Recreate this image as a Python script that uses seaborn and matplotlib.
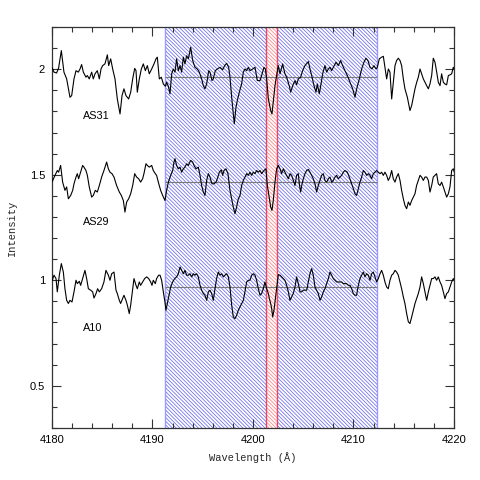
import numpy as np
import pandas as pd
import matplotlib
matplotlib.use("Agg")
import matplotlib.pyplot as plt
import seaborn as sns
from matplotlib.ticker import MultipleLocator, FuncFormatter

# ---------------- data ----------------
wl_as31 = [4180.03, 4180.20, 4180.46, 4180.66, 4180.93, 4181.19, 4181.46, 4181.79, 4181.96, 4182.19,
           4182.39, 4182.62, 4182.79, 4182.95, 4183.12, 4183.38, 4183.52, 4183.71, 4183.95, 4184.11,
           4184.28, 4184.51, 4184.71, 4184.88, 4185.04, 4185.27, 4185.51, 4185.64, 4185.84, 4186.04,
           4186.27, 4186.50, 4186.77, 4186.97, 4187.16, 4187.36, 4187.63, 4187.83, 4188.03, 4188.23,
           4188.36, 4188.49, 4188.69, 4188.89, 4189.09, 4189.29, 4189.49, 4189.68, 4189.92, 4190.15,
           4190.35, 4190.48, 4190.68, 4190.88, 4191.08, 4191.28, 4191.41, 4191.58, 4191.74, 4191.91,
           4192.07, 4192.24, 4192.40, 4192.57, 4192.74, 4192.90, 4193.07, 4193.23, 4193.40, 4193.57,
           4193.80, 4194.00, 4194.23, 4194.46, 4194.66, 4194.89, 4195.06, 4195.22, 4195.39, 4195.59,
           4195.72, 4195.92, 4196.05, 4196.25, 4196.45, 4196.72, 4196.98, 4197.18, 4197.38, 4197.58,
           4197.71, 4197.88, 4198.04, 4198.14, 4198.31, 4198.44, 4198.64, 4198.87, 4199.04, 4199.20,
           4199.37, 4199.54, 4199.70, 4199.97, 4200.20, 4200.43, 4200.70, 4200.86, 4201.09, 4201.23,
           4201.36, 4201.53, 4201.76, 4201.89, 4202.02, 4202.19, 4202.35, 4202.52, 4202.69, 4202.95,
           4203.18, 4203.35, 4203.62, 4203.75, 4203.95, 4204.18, 4204.34, 4204.51, 4204.74, 4204.94,
           4205.17, 4205.51, 4205.67, 4205.84, 4206.07, 4206.27, 4206.40, 4206.60, 4206.77, 4206.93,
           4207.16, 4207.33, 4207.50, 4207.66, 4207.83, 4207.99, 4208.26, 4208.49, 4208.72, 4208.92,
           4209.15, 4209.39, 4209.65, 4209.92, 4210.15, 4210.32, 4210.58, 4210.81, 4211.04, 4211.24,
           4211.44, 4211.64, 4211.84, 4212.04, 4212.24, 4212.37, 4212.57, 4212.80, 4212.97, 4213.13,
           4213.30, 4213.47, 4213.63, 4213.80, 4213.96, 4214.13, 4214.29, 4214.46, 4214.63, 4214.79,
           4214.96, 4215.12, 4215.36, 4215.62, 4215.79, 4215.95, 4216.12, 4216.29, 4216.45, 4216.62,
           4216.78, 4216.95, 4217.11, 4217.28, 4217.45, 4217.61, 4217.78, 4217.94, 4218.11, 4218.28,
           4218.44, 4218.61, 4218.77, 4218.94, 4219.10, 4219.27, 4219.44, 4219.60, 4219.77, 4219.93,
           4220.03]
int_as31 = [2.006, 1.986, 1.982, 2.006, 2.088, 1.986, 1.954, 1.867, 1.875, 1.954,
            1.993, 1.986, 2.001, 2.022, 1.986, 1.962, 1.970, 1.954, 1.986, 1.954,
            1.978, 1.993, 1.954, 2.001, 2.017, 2.025, 2.068, 2.017, 2.049, 2.001,
            1.954, 1.859, 1.788, 1.875, 1.907, 1.875, 1.859, 1.891, 1.954, 2.004,
            1.993, 1.891, 1.954, 2.001, 2.025, 1.993, 2.017, 1.978, 2.001, 2.025,
            2.049, 2.057, 1.954, 1.962, 1.930, 1.919, 1.938, 1.919, 1.883, 1.978,
            2.001, 1.986, 2.049, 1.993, 2.017, 1.986, 2.057, 2.025, 2.064, 2.049,
            2.104, 2.041, 2.009, 2.001, 1.986, 1.954, 1.922, 1.907, 1.930, 1.993,
            1.986, 1.946, 1.954, 1.993, 2.001, 2.009, 1.997, 2.017, 2.028, 2.009,
            1.962, 1.867, 1.788, 1.741, 1.820, 1.851, 1.891, 1.930, 1.986, 2.001,
            1.993, 2.009, 1.993, 2.001, 2.009, 1.946, 1.946, 1.970, 2.009, 2.001,
            1.954, 1.859, 1.804, 1.788, 1.844, 1.922, 1.970, 2.017, 1.978, 2.025,
            1.978, 1.962, 1.919, 1.891, 1.922, 1.946, 1.926, 1.954, 1.962, 1.993,
            2.017, 2.036, 2.001, 1.970, 1.922, 1.891, 1.930, 1.883, 1.930, 1.978,
            2.017, 1.986, 2.001, 2.009, 1.993, 2.009, 2.033, 2.017, 2.041, 2.017,
            1.993, 1.970, 1.938, 1.907, 1.867, 1.907, 1.954, 2.001, 2.033, 2.052,
            2.041, 2.009, 2.001, 2.017, 2.001, 2.009, 2.049, 2.057, 2.061, 2.009,
            1.954, 2.001, 1.986, 1.859, 1.938, 2.017, 2.041, 2.052, 2.041, 2.017,
            1.954, 1.907, 1.867, 1.804, 1.828, 1.867, 1.907, 1.938, 1.962, 2.001,
            1.978, 1.954, 1.938, 1.922, 1.907, 1.930, 1.970, 2.052, 2.033, 1.986,
            1.938, 1.922, 1.978, 1.938, 1.930, 1.926, 1.970, 1.973, 1.978, 2.009,
            2.001]

wl_as29 = [4180.03, 4180.30, 4180.53, 4180.66, 4180.86, 4181.06, 4181.29, 4181.46, 4181.63, 4181.86,
           4182.06, 4182.19, 4182.39, 4182.52, 4182.65, 4182.85, 4183.05, 4183.18, 4183.38, 4183.52,
           4183.71, 4183.95, 4184.11, 4184.31, 4184.51, 4184.71, 4184.94, 4185.17, 4185.44, 4185.61,
           4185.77, 4185.97, 4186.17, 4186.43, 4186.70, 4186.90, 4187.10, 4187.26, 4187.43, 4187.63,
           4187.83, 4188.03, 4188.23, 4188.42, 4188.62, 4188.82, 4189.02, 4189.15, 4189.35, 4189.49,
           4189.68, 4189.92, 4190.08, 4190.28, 4190.41, 4190.58, 4190.81, 4191.01, 4191.24, 4191.41,
           4191.58, 4191.81, 4192.01, 4192.14, 4192.24, 4192.40, 4192.57, 4192.74, 4192.90, 4193.07,
           4193.23, 4193.40, 4193.57, 4193.80, 4194.00, 4194.13, 4194.33, 4194.56, 4194.73, 4194.89,
           4195.06, 4195.22, 4195.39, 4195.56, 4195.72, 4195.92, 4196.12, 4196.32, 4196.45, 4196.65,
           4196.85, 4196.98, 4197.11, 4197.31, 4197.51, 4197.71, 4197.88, 4198.04, 4198.21, 4198.37,
           4198.54, 4198.71, 4198.87, 4199.04, 4199.20, 4199.37, 4199.54, 4199.70, 4199.87, 4200.03,
           4200.20, 4200.36, 4200.53, 4200.70, 4200.86, 4201.09, 4201.29, 4201.43, 4201.63, 4201.76,
           4201.89, 4202.02, 4202.19, 4202.35, 4202.52, 4202.69, 4202.85, 4203.02, 4203.18, 4203.35,
           4203.52, 4203.68, 4203.85, 4204.01, 4204.18, 4204.34, 4204.51, 4204.61, 4204.74, 4204.88,
           4205.01, 4205.17, 4205.34, 4205.51, 4205.67, 4205.84, 4206.00, 4206.17, 4206.33, 4206.50,
           4206.67, 4206.83, 4207.00, 4207.16, 4207.33, 4207.50, 4207.66, 4207.83, 4207.99, 4208.16,
           4208.32, 4208.49, 4208.66, 4208.82, 4208.99, 4209.15, 4209.39, 4209.58, 4209.82, 4209.98,
           4210.15, 4210.31, 4210.48, 4210.65, 4210.81, 4210.98, 4211.14, 4211.31, 4211.48, 4211.64,
           4211.81, 4211.97, 4212.14, 4212.30, 4212.47, 4212.64, 4212.80, 4212.97, 4213.13, 4213.30,
           4213.46, 4213.63, 4213.80, 4213.96, 4214.13, 4214.29, 4214.46, 4214.63, 4214.79, 4214.96,
           4215.12, 4215.29, 4215.46, 4215.62, 4215.79, 4215.95, 4216.12, 4216.28, 4216.45, 4216.62,
           4216.78, 4216.95, 4217.11, 4217.28, 4217.45, 4217.61, 4217.78, 4217.94, 4218.11, 4218.27,
           4218.44, 4218.61, 4218.77, 4218.94, 4219.10, 4219.27, 4219.44, 4219.60, 4219.77, 4219.93,
           4220.03]
int_as29 = [1.468, 1.497, 1.520, 1.512, 1.544, 1.465, 1.426, 1.442, 1.386, 1.402,
            1.426, 1.457, 1.489, 1.505, 1.481, 1.512, 1.544, 1.536, 1.520, 1.497,
            1.442, 1.394, 1.402, 1.426, 1.418, 1.449, 1.489, 1.520, 1.560, 1.528,
            1.512, 1.505, 1.489, 1.449, 1.418, 1.402, 1.378, 1.323, 1.371, 1.386,
            1.410, 1.449, 1.505, 1.489, 1.481, 1.465, 1.481, 1.505, 1.552, 1.544,
            1.536, 1.544, 1.520, 1.505, 1.497, 1.465, 1.426, 1.402, 1.378, 1.426,
            1.465, 1.497, 1.520, 1.560, 1.576, 1.544, 1.528, 1.536, 1.512, 1.528,
            1.536, 1.552, 1.544, 1.568, 1.560, 1.544, 1.528, 1.536, 1.497, 1.449,
            1.418, 1.402, 1.473, 1.505, 1.489, 1.457, 1.457, 1.465, 1.481, 1.512,
            1.523, 1.497, 1.520, 1.528, 1.505, 1.426, 1.386, 1.347, 1.315, 1.347,
            1.386, 1.402, 1.449, 1.473, 1.489, 1.505, 1.497, 1.512, 1.497, 1.512,
            1.505, 1.520, 1.512, 1.520, 1.505, 1.520, 1.528, 1.449, 1.386, 1.347,
            1.331, 1.378, 1.465, 1.528, 1.544, 1.528, 1.505, 1.528, 1.512, 1.497,
            1.481, 1.505, 1.497, 1.473, 1.449, 1.497, 1.505, 1.457, 1.418, 1.457,
            1.481, 1.505, 1.520, 1.525, 1.512, 1.497, 1.481, 1.457, 1.418, 1.449,
            1.473, 1.497, 1.505, 1.473, 1.465, 1.481, 1.489, 1.465, 1.473, 1.489,
            1.497, 1.481, 1.489, 1.497, 1.512, 1.520, 1.512, 1.489, 1.457, 1.434,
            1.410, 1.402, 1.434, 1.465, 1.489, 1.520, 1.512, 1.497, 1.505, 1.497,
            1.481, 1.505, 1.512, 1.520, 1.512, 1.505, 1.512, 1.497, 1.512, 1.497,
            1.473, 1.489, 1.520, 1.481, 1.465, 1.489, 1.505, 1.473, 1.426, 1.386,
            1.355, 1.339, 1.371, 1.355, 1.378, 1.394, 1.410, 1.449, 1.473, 1.497,
            1.489, 1.473, 1.489, 1.489, 1.473, 1.418, 1.449, 1.489, 1.497, 1.505,
            1.457, 1.449, 1.465, 1.442, 1.418, 1.394, 1.410, 1.442, 1.520, 1.528,
            1.512]

wl_a10 = [4180.03, 4180.20, 4180.40, 4180.53, 4180.73, 4180.93, 4181.13, 4181.29, 4181.46, 4181.63,
          4181.79, 4181.99, 4182.19, 4182.39, 4182.52, 4182.72, 4182.85, 4183.05, 4183.28, 4183.45,
          4183.62, 4183.85, 4184.05, 4184.18, 4184.38, 4184.54, 4184.71, 4184.94, 4185.17, 4185.37,
          4185.61, 4185.77, 4185.94, 4186.17, 4186.37, 4186.50, 4186.70, 4186.83, 4187.03, 4187.16,
          4187.36, 4187.50, 4187.69, 4187.83, 4188.03, 4188.16, 4188.36, 4188.49, 4188.69, 4188.82,
          4189.02, 4189.22, 4189.42, 4189.62, 4189.82, 4189.95, 4190.08, 4190.28, 4190.41, 4190.61,
          4190.75, 4190.91, 4191.08, 4191.24, 4191.34, 4191.48, 4191.61, 4191.81, 4192.01, 4192.21,
          4192.40, 4192.57, 4192.74, 4192.90, 4193.07, 4193.23, 4193.40, 4193.57, 4193.73, 4193.90,
          4194.06, 4194.23, 4194.39, 4194.56, 4194.73, 4194.89, 4195.06, 4195.22, 4195.39, 4195.56,
          4195.72, 4195.89, 4196.05, 4196.22, 4196.38, 4196.55, 4196.72, 4196.88, 4197.05, 4197.21,
          4197.38, 4197.55, 4197.71, 4197.88, 4198.04, 4198.21, 4198.37, 4198.54, 4198.71, 4198.87,
          4199.04, 4199.20, 4199.37, 4199.54, 4199.70, 4199.87, 4200.03, 4200.20, 4200.36, 4200.53,
          4200.70, 4200.86, 4201.03, 4201.19, 4201.36, 4201.53, 4201.63, 4201.76, 4201.86, 4201.96,
          4202.09, 4202.19, 4202.35, 4202.52, 4202.69, 4202.85, 4203.02, 4203.18, 4203.35, 4203.52,
          4203.68, 4203.85, 4204.01, 4204.18, 4204.34, 4204.51, 4204.68, 4204.84, 4205.01, 4205.17,
          4205.34, 4205.51, 4205.67, 4205.84, 4206.00, 4206.17, 4206.33, 4206.50, 4206.67, 4206.83,
          4207.00, 4207.16, 4207.33, 4207.50, 4207.66, 4207.83, 4207.99, 4208.16, 4208.32, 4208.49,
          4208.66, 4208.82, 4208.99, 4209.15, 4209.32, 4209.49, 4209.65, 4209.82, 4209.98, 4210.15,
          4210.31, 4210.48, 4210.65, 4210.81, 4210.98, 4211.14, 4211.31, 4211.48, 4211.64, 4211.81,
          4211.97, 4212.14, 4212.30, 4212.47, 4212.64, 4212.80, 4212.97, 4213.13, 4213.30, 4213.46,
          4213.63, 4213.80, 4213.96, 4214.13, 4214.29, 4214.46, 4214.63, 4214.79, 4214.96, 4215.12,
          4215.29, 4215.46, 4215.62, 4215.79, 4215.95, 4216.12, 4216.28, 4216.45, 4216.62, 4216.78,
          4216.95, 4217.11, 4217.28, 4217.45, 4217.61, 4217.78, 4217.94, 4218.11, 4218.27, 4218.44,
          4218.61, 4218.77, 4218.94, 4219.10, 4219.27, 4219.44, 4219.60, 4219.77, 4219.93, 4220.03]
int_a10 = [1.000, 1.024, 1.008, 0.945, 1.024, 1.079, 1.039, 0.960, 0.905, 0.890,
           0.905, 0.897, 0.945, 1.000, 0.984, 0.995, 0.976, 1.008, 1.047, 1.008,
           0.960, 0.953, 0.945, 0.916, 0.937, 0.960, 0.945, 0.960, 0.992, 1.047,
           1.024, 1.000, 1.031, 1.039, 0.953, 0.937, 0.905, 0.890, 0.913, 0.929,
           0.905, 0.882, 0.842, 0.882, 0.960, 1.008, 0.976, 0.960, 0.992, 0.976,
           0.992, 1.008, 1.016, 1.008, 0.992, 0.976, 1.000, 0.984, 1.008, 1.024,
           1.024, 1.000, 0.945, 0.897, 0.858, 0.890, 0.921, 0.968, 0.992, 1.008,
           1.016, 1.031, 1.063, 1.047, 1.031, 1.047, 1.024, 1.024, 1.031, 1.016,
           1.031, 1.024, 1.031, 1.016, 0.976, 0.953, 0.937, 0.929, 0.905, 0.945,
           0.953, 0.937, 0.905, 0.960, 1.008, 1.039, 1.024, 1.031, 1.016, 1.024,
           1.031, 1.016, 0.968, 0.882, 0.826, 0.818, 0.834, 0.858, 0.874, 0.890,
           0.905, 0.945, 0.992, 1.000, 1.000, 1.024, 1.031, 1.024, 1.000, 0.960,
           0.929, 0.937, 0.960, 0.992, 0.960, 0.937, 0.913, 0.890, 0.866, 0.826,
           0.858, 0.897, 0.960, 1.027, 1.024, 1.016, 1.008, 1.000, 0.976, 0.945,
           0.905, 0.921, 0.937, 0.968, 1.016, 0.984, 0.945, 0.945, 0.953, 0.953,
           0.953, 0.992, 1.031, 1.055, 1.024, 0.968, 0.953, 0.937, 0.905, 0.921,
           0.945, 0.960, 0.984, 1.008, 1.039, 1.024, 1.008, 1.000, 0.992, 0.992,
           0.992, 0.992, 0.984, 0.984, 0.984, 0.976, 0.976, 0.960, 0.937, 0.929,
           0.929, 0.976, 1.008, 1.024, 1.039, 1.016, 1.031, 1.024, 1.000, 1.031,
           1.039, 1.016, 0.992, 1.008, 1.031, 1.047, 1.024, 0.992, 0.968, 0.960,
           1.000, 1.024, 1.031, 1.047, 1.039, 1.024, 0.992, 0.960, 0.921, 0.890,
           0.842, 0.803, 0.795, 0.826, 0.858, 0.890, 0.913, 0.937, 0.968, 1.016,
           0.984, 0.945, 0.905, 0.945, 0.976, 1.008, 1.008, 1.016, 1.000, 1.016,
           0.992, 0.976, 0.945, 0.913, 0.937, 0.945, 0.968, 0.992, 1.008, 1.000]

stars = ["AS31", "AS29", "A10"]
continuum_levels = [1.962, 1.464, 0.970]
label_wl = [4183.05, 4183.05, 4183.05]
label_int = [1.776, 1.276, 0.775]
blue_window = (4191.25, 4212.37)
red_window = (4201.32, 4202.35)

# ---------------- figure ----------------
sns.set_theme(style="ticks")
plt.rcParams["font.family"] = ["Liberation Sans", "DejaVu Sans"]
plt.rcParams["hatch.linewidth"] = 0.55

fig = plt.figure(figsize=(4.8, 4.8), dpi=100)
ax = fig.add_axes([0.1083, 0.1083, 0.8375, 0.8355])

blue_hatch = "#6a6af0"
blue_edge = "#9a9aff"
red_hatch = "#ff8080"
red_edge = "#ee4466"
hatch_pattern = "\\" * 9

ax.axvspan(*blue_window, facecolor="none", edgecolor=blue_hatch, hatch=hatch_pattern,
           linewidth=0, zorder=0)
for xv in blue_window:
    ax.axvline(xv, color=blue_edge, lw=1.0, zorder=1)
ax.axvspan(*red_window, facecolor="white", edgecolor=red_hatch, hatch=hatch_pattern,
           linewidth=0, zorder=1.5)
for xv in red_window:
    ax.axvline(xv, color=red_edge, lw=1.0, zorder=1.6)

ax.hlines(continuum_levels, blue_window[0], blue_window[1], colors="#7a7a7a",
          lw=0.8, zorder=2)

frames = []
for name, wl, it in [("AS31", wl_as31, int_as31), ("AS29", wl_as29, int_as29),
                     ("A10", wl_a10, int_a10)]:
    frames.append(pd.DataFrame({"wavelength": wl, "intensity": it, "star": name}))
df = pd.concat(frames, ignore_index=True)

for name in stars:
    sub = df[df["star"] == name]
    sns.lineplot(data=sub, x="wavelength", y="intensity", sort=False, estimator=None,
                 color="black", lw=0.8, ax=ax, zorder=3)

for name, lx, ly in zip(stars, label_wl, label_int):
    ax.text(lx, ly, name, fontsize=7.8, va="center", ha="left", color="black", zorder=4)

ax.set_xlim(4180, 4220)
ax.set_ylim(0.3, 2.2)
ax.xaxis.set_major_locator(MultipleLocator(10))
ax.xaxis.set_minor_locator(MultipleLocator(2))
ax.yaxis.set_major_locator(MultipleLocator(0.5))
ax.yaxis.set_minor_locator(MultipleLocator(0.1))
ax.yaxis.set_major_formatter(FuncFormatter(lambda v, p: f"{v:g}"))
ax.tick_params(which="both", direction="in", top=True, right=True, colors="#333333",
               labelcolor="black", labelsize=8)
ax.tick_params(which="major", length=6.5, width=0.8, pad=5)
ax.tick_params(which="minor", length=3.5, width=0.8)
for sp in ax.spines.values():
    sp.set_linewidth(0.9)
    sp.set_color("#333333")

ax.set_xlabel("Wavelength (Å)", family=["Liberation Mono", "DejaVu Sans Mono"],
              fontsize=7.5, labelpad=5)
ax.set_ylabel("Intensity", family=["Liberation Mono", "DejaVu Sans Mono"],
              fontsize=7.5, labelpad=9)

fig.savefig("out.png", dpi=100)
